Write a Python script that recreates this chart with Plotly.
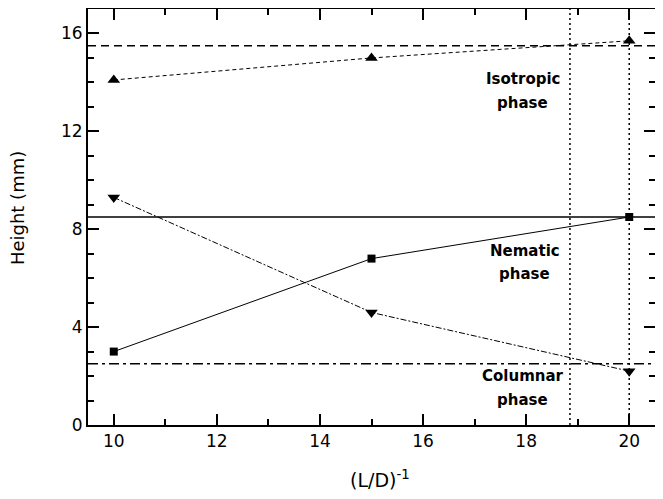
import plotly.graph_objects as go

x_vals = [10, 15, 20]
isotropic = [14.1, 15.0, 15.7]
nematic = [3.0, 6.8, 8.5]
columnar = [9.3, 4.6, 2.2]

h_isotropic = 15.5
h_nematic = 8.5
h_columnar = 2.5
v_lines = [18.85, 20]

# phase labels: (first line, second line)
label_names = ["Isotropic", "Nematic", "Columnar"]
label_second = ["phase", "phase", "phase"]
label_x = [17.93, 17.97, 17.93]
label_y_top = [14.12, 7.1, 2.0]
label_y_bottom = [13.14, 6.16, 1.02]

x_title = "(L/D)<sup>-1</sup>"
y_title = "Height (mm)"

x_range = [9.5, 20.5]
y_range = [0, 17]

FONT = "DejaVu Sans"

fig = go.Figure()

# horizontal phase boundary lines
for yv, dash in [(h_isotropic, "8px,5px"), (h_nematic, "solid"), (h_columnar, "10px,4px,3px,4px")]:
    fig.add_trace(go.Scatter(x=x_range, y=[yv, yv], mode="lines",
                             line=dict(color="black", width=1.5, dash=dash),
                             hoverinfo="skip", showlegend=False))

# vertical dotted lines
for xv in v_lines:
    fig.add_trace(go.Scatter(x=[xv, xv], y=y_range, mode="lines",
                             line=dict(color="black", width=1.5, dash="2px,3px"),
                             hoverinfo="skip", showlegend=False))

fig.add_trace(go.Scatter(x=x_vals, y=isotropic, mode="lines+markers",
                         line=dict(color="black", width=1, dash="4px,3px"),
                         marker=dict(symbol="triangle-up", size=11, color="black"),
                         showlegend=False))
fig.add_trace(go.Scatter(x=x_vals, y=nematic, mode="lines+markers",
                         line=dict(color="black", width=1),
                         marker=dict(symbol="square", size=8, color="black"),
                         showlegend=False))
fig.add_trace(go.Scatter(x=x_vals, y=columnar, mode="lines+markers",
                         line=dict(color="black", width=1, dash="6px,2px,2px,2px"),
                         marker=dict(symbol="triangle-down", size=11, color="black"),
                         showlegend=False))

for n, s, lx, yt, yb in zip(label_names, label_second, label_x, label_y_top, label_y_bottom):
    fig.add_annotation(x=lx, y=yt, text="<b>" + n + "</b>", showarrow=False,
                       font=dict(family=FONT, size=15, color="black"))
    fig.add_annotation(x=lx, y=yb, text="<b>" + s + "</b>", showarrow=False,
                       font=dict(family=FONT, size=15, color="black"))

# axis titles
fig.add_annotation(xref="paper", yref="paper", x=0.515, y=-0.13, text=x_title,
                   showarrow=False, xanchor="center", yanchor="middle",
                   font=dict(family=FONT, size=19, color="black"))
fig.add_annotation(xref="paper", yref="paper", x=-0.123, y=0.522, text=y_title,
                   showarrow=False, xanchor="center", yanchor="middle", textangle=-90,
                   font=dict(family=FONT, size=18, color="black"))

axis_common = dict(showline=True, linecolor="black", linewidth=2, mirror="allticks",
                   ticks="inside", ticklen=11, tickwidth=2, tickcolor="black",
                   showgrid=False, zeroline=False,
                   tickfont=dict(family=FONT, size=17, color="black"))

fig.update_xaxes(range=x_range, tick0=10, dtick=2,
                 minor=dict(dtick=1, ticks="inside", ticklen=6, tickwidth=2, tickcolor="black"),
                 **axis_common)
fig.update_yaxes(range=y_range, tick0=0, dtick=4,
                 minor=dict(dtick=1, ticks="inside", ticklen=6, tickwidth=2, tickcolor="black"),
                 **axis_common)

# page body has an 8px margin, so the figure is 655x491 to fill the 663x499 window
fig.update_layout(width=655, height=491, margin=dict(l=80, r=8, t=1, b=74, autoexpand=False),
                  plot_bgcolor="white", paper_bgcolor="white",
                  font=dict(family=FONT, color="black"))

fig.write_html("out.html")
